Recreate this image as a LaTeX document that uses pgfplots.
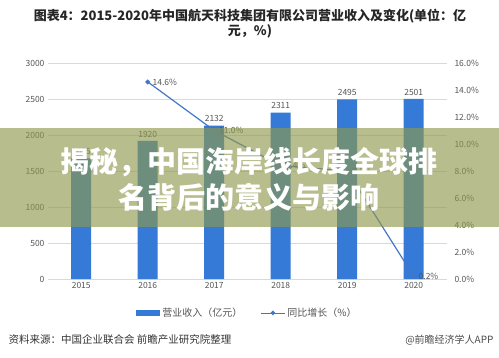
\documentclass[border=0pt]{standalone}
\usepackage{pgfplots}
\pgfplotsset{compat=1.18}
\usepackage{fontspec}
\setmainfont{Noto Sans CJK SC}
\definecolor{barblue}{RGB}{52,122,214}
\definecolor{lineblue}{RGB}{68,118,200}
\definecolor{bannerc}{RGB}{142,152,75}
\definecolor{tickgray}{RGB}{85,85,85}
\begin{document}
\begin{tikzpicture}
\begin{axis}[
  name=a1,
  scale only axis, width=399pt, height=216pt,
  xmin=-0.5, xmax=5.5, ymin=0, ymax=3000,
  xtick={0,1,2,3,4,5}, xticklabels={2015,2016,2017,2018,2019,2020},
  ytick={0,500,1000,1500,2000,2500,3000},
  axis line style={draw=none},
  ymajorgrids, grid style={black!15},
  major tick length=0pt,
  tick label style={font=\fontsize{8.5}{9}\selectfont, text=tickgray},
  /pgf/number format/assume math mode=true,
  /pgf/number format/1000 sep={},
  ybar, bar width=20pt,
  nodes near coords,
  nodes near coords style={font=\fontsize{8.5}{9}\selectfont, text=tickgray, /pgf/number format/1000 sep={}, /pgf/number format/assume math mode=true},
  legend style={at={(0.5,-0.157)}, anchor=center, draw=none, legend columns=2, font=\fontsize{10}{11}\selectfont, text=tickgray, /tikz/every even column/.append style={column sep=16pt}},
]
\addplot[fill=barblue, draw=none, legend image code/.code={\fill[barblue] (0pt,-3pt) rectangle (24pt,3pt);}] coordinates {(0,1675) (1,1920) (2,2132) (3,2311) (4,2495) (5,2501)};
\addlegendentry{营业收入（亿元）}
\addlegendimage{lineblue, thick, legend image code/.code={\draw[lineblue, thick] (0pt,0pt) -- (24pt,0pt); \fill[lineblue] (12pt,0pt) circle (1.8pt);}}
\addlegendentry{同比增长（\%）}
\coordinate (SW) at (rel axis cs:0,0);
\end{axis}
\begin{axis}[
  at={(SW)}, anchor=south west,
  scale only axis, width=399pt, height=216pt,
  xmin=-0.5, xmax=5.5, ymin=0, ymax=16,
  axis y line*=right, axis x line=none,
  axis line style={draw=none},
  ytick={0,2,4,6,8,10,12,14,16},
  yticklabels={0.0\%,2.0\%,4.0\%,6.0\%,8.0\%,10.0\%,12.0\%,14.0\%,16.0\%},
  major tick length=0pt,
  tick label style={font=\fontsize{8.5}{9}\selectfont, text=tickgray},
  yticklabel style={xshift=4pt},
]
\addplot[lineblue, line width=1.2pt, mark=*, mark size=1.8pt, mark options={fill=lineblue},
  nodes near coords, point meta=explicit symbolic,
  nodes near coords style={font=\fontsize{8.5}{9}\selectfont, text=tickgray, anchor=west, xshift=1pt}]
  table[meta=lab] {
x y lab
1 14.6 14.6\%
2 11.0 11.0\%
3 8.4 8.4\%
4 8.0 8.0\%
5 0.2 0.2\%
};
\end{axis}
\begin{scope}[shift={(SW)}, shift={(-48pt,-78pt)}, x=1pt, y=1pt]
\path[use as bounding box] (0,0) rectangle (499,357);
\node[font=\fontsize{13}{15}\selectfont\bfseries, align=center, text=black!85] at (250,333) {图表4：2015-2020年中国航天科技集团有限公司营业收入及变化(单位：亿\\元，\%)};
\node[anchor=west, font=\fontsize{10.5}{11}\selectfont, text=black!80] at (5,17) {资料来源：中国企业联合会 前瞻产业研究院整理};
\node[anchor=east, font=\fontsize{10}{11}\selectfont, text=black!70] at (497,17) {@前瞻经济学人APP};
\fill[bannerc, opacity=0.64] (0,130) rectangle (499,229);
\node[text=white, font=\fontsize{29}{36}\selectfont\bfseries, align=center] at (249,178) {揭秘，中国海岸线长度全球排\\名背后的意义与影响};
\end{scope}
\end{tikzpicture}
\end{document}
